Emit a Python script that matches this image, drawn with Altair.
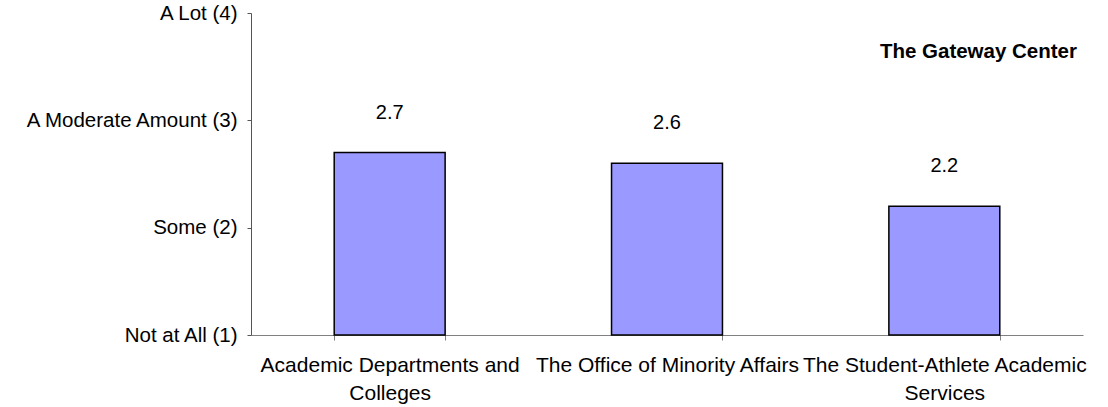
import json
import altair as alt
import pandas as pd

categories = [
    "Academic Departments and\nColleges",
    "The Office of Minority Affairs",
    "The Student-Athlete Academic\nServices",
]
values = [2.7, 2.6, 2.2]
y_ticks = [1, 2, 3, 4]
y_tick_labels = ["Not at All (1)", "Some (2)", "A Moderate Amount  (3)", "A Lot (4)"]
annotation = ["The Gateway Center"]

FONT = "Liberation Sans"

df = pd.DataFrame({"category": categories, "value": values})

label_expr = json.dumps(y_tick_labels) + "[datum.value - 1]"

x_enc = alt.X(
    "category:N",
    sort=categories,
    scale=alt.Scale(paddingInner=0.6, paddingOuter=0.3),
    axis=alt.Axis(
        title=None,
        labelAngle=0,
        labelFontSize=21,
        labelFont=FONT,
        labelLineHeight=28,
        labelPadding=14,
        labelColor="black",
        labelLimit=400,
        labelOverlap=False,
        labelExpr="split(datum.label, '\\n')",
        tickSize=5,
        tickBand="extent",
        tickColor="#808080",
        domainColor="#808080",
        grid=False,
    ),
)
y_enc = alt.Y(
    "value:Q",
    scale=alt.Scale(domain=[1, 4], nice=False, zero=False),
    axis=alt.Axis(
        title=None,
        values=y_ticks,
        labelExpr=label_expr,
        labelFontSize=20.5,
        labelFont=FONT,
        labelColor="black",
        labelPadding=10,
        labelLimit=400,
        tickSize=4,
        tickColor="#555555",
        domainColor="#555555",
        grid=False,
    ),
)

base = alt.Chart(df)

bars = base.mark_bar(color="#9999FF", stroke="black", strokeWidth=1.5).encode(
    x=x_enc, y=y_enc, y2=alt.datum(1)
)

text = base.mark_text(
    fontSize=20, font=FONT, baseline="alphabetic", dy=-34, color="black"
).encode(x=alt.X("category:N", sort=categories), y="value:Q",
         text=alt.Text("value:Q", format=".1f"))

ann = alt.Chart(pd.DataFrame({"t": annotation})).mark_text(
    align="right", baseline="alphabetic", fontWeight="bold", fontSize=20.5,
    font=FONT, color="black"
).encode(x=alt.value(826), y=alt.value(45), text="t:N")

chart = (
    alt.layer(bars, text, ann)
    .properties(
        width=832,
        height=322,
        padding={"left": 251, "top": 13, "right": 25, "bottom": 72},
        autosize=alt.AutoSizeParams(type="none"),
        background="white",
    )
    .configure(font=FONT)
    .configure_view(strokeWidth=0, stroke="transparent")
    .configure_axis(grid=False)
)

chart.save("out.html", embed_options={"renderer": "svg", "actions": False})
